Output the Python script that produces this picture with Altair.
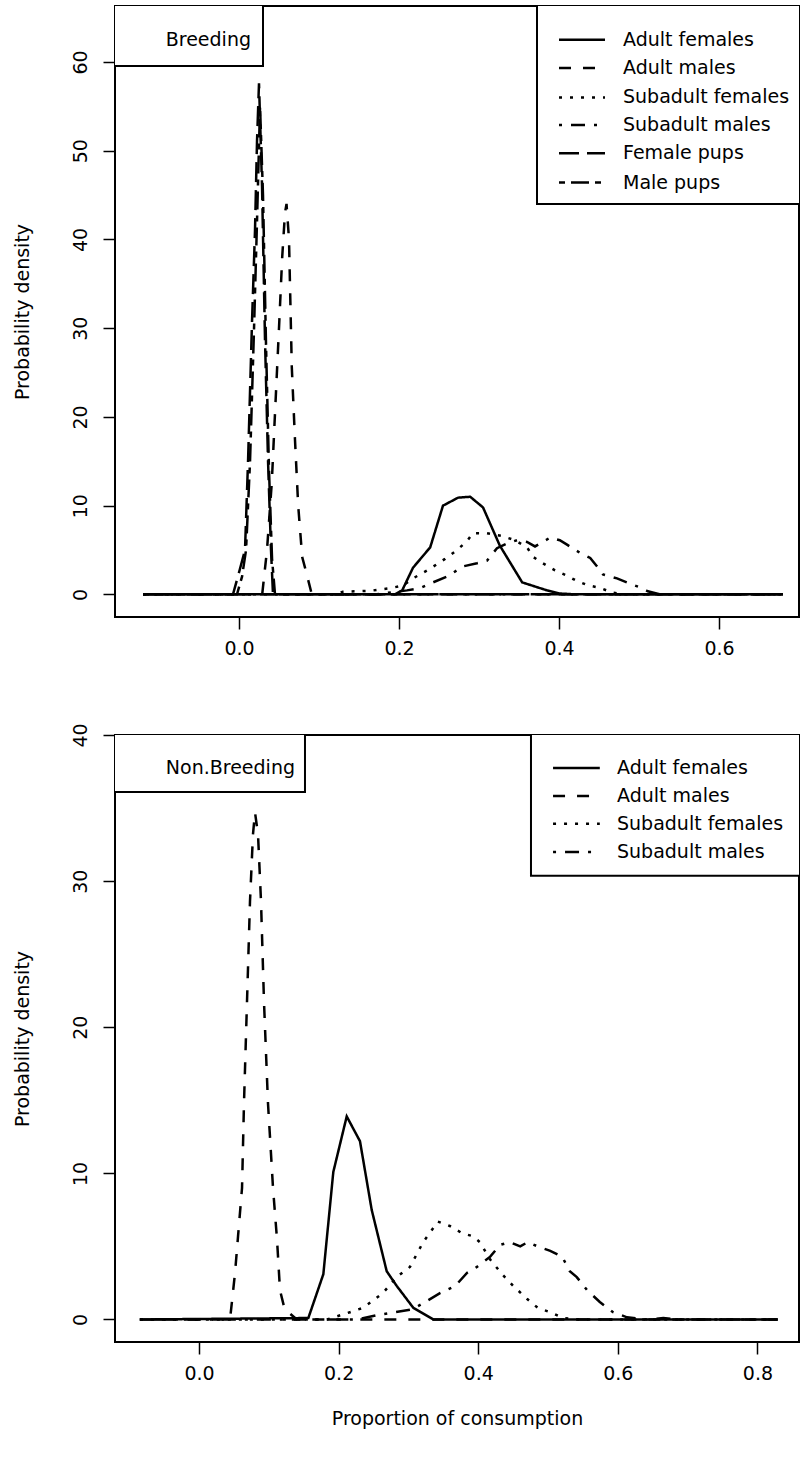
import altair as alt
import pandas as pd

FONT = "DejaVu Sans"
FS = 19
W = 684
LW = 2.5

SERIES = ["Adult females", "Adult males", "Subadult females", "Subadult males", "Female pups", "Male pups"]
DASHES = [[1, 0], [12, 12], [3, 8], [3, 9, 14, 9], [20, 8], [6, 6, 18, 6]]

# ---------------- Breeding ----------------
b_adult_f_x = [-0.12, 0.195, 0.204, 0.2175, 0.239, 0.255, 0.274, 0.289, 0.305, 0.326, 0.354, 0.385, 0.401, 0.42, 0.68]
b_adult_f_y = [0, 0, 0.45, 3.0, 5.3, 10.0, 10.9, 11.0, 9.8, 5.5, 1.35, 0.45, 0.1, 0, 0]

b_adult_m_x = [-0.12, 0.029, 0.035, 0.041, 0.045, 0.05, 0.054, 0.0575, 0.0594, 0.0625, 0.066, 0.07, 0.074, 0.079, 0.084, 0.091, 0.68]
b_adult_m_y = [0, 0, 5, 12.6, 20.4, 30, 38, 43, 44, 40, 25.6, 17.4, 10, 4.2, 2.5, 0, 0]

b_sub_f_x = [-0.12, 0.12, 0.13, 0.164, 0.189, 0.205, 0.2175, 0.239, 0.2575, 0.2725, 0.285, 0.2925, 0.31, 0.328, 0.345,
             0.36, 0.368, 0.38, 0.395, 0.41, 0.4225, 0.437, 0.451, 0.466, 0.4825, 0.68]
b_sub_f_y = [0, 0, 0.3, 0.4, 0.7, 1.0, 1.8, 2.9, 4.0, 5.0, 6.0, 6.9, 6.9, 6.6, 6.1,
             5.3, 4.2, 3.5, 2.7, 2.1, 1.5, 1.0, 0.75, 0.2, 0, 0]

b_sub_m_x = [-0.12, 0.17, 0.21, 0.226, 0.2425, 0.26, 0.28, 0.2975, 0.31, 0.3225, 0.335, 0.3475, 0.36, 0.37, 0.389,
             0.401, 0.41, 0.426, 0.439, 0.449, 0.455, 0.4725, 0.489, 0.501, 0.511, 0.526, 0.68]
b_sub_m_y = [0, 0, 0.45, 0.7, 1.35, 2.0, 3.15, 3.5, 3.8, 5.2, 5.75, 6.1, 5.9, 5.4, 6.4,
             6.1, 5.6, 4.7, 4.1, 3.0, 2.25, 1.8, 1.2, 0.8, 0.35, 0, 0]

b_fpup_x = [-0.12, -0.0075, 0.001, 0.0075, 0.0113, 0.0163, 0.02, 0.0225, 0.025, 0.0288, 0.0325, 0.0363, 0.04, 0.0425, 0.68]
b_fpup_y = [0, 0, 2.8, 5, 15, 30.8, 41, 51, 57.6, 46, 28.7, 15, 5, 0, 0]

b_mpup_x = [-0.12, -0.0025, 0.0038, 0.0088, 0.0138, 0.0188, 0.0225, 0.0263, 0.03, 0.0338, 0.0375, 0.0413, 0.045, 0.68]
b_mpup_y = [0, 0, 2, 5, 15, 30, 42, 55, 45, 28, 14, 4, 0, 0]

# ---------------- Non.Breeding ----------------
nb_adult_f_x = [-0.0848, 0.1566, 0.1781, 0.1924, 0.2116, 0.2306, 0.2474, 0.2689, 0.2832, 0.307, 0.3357, 0.8292]
nb_adult_f_y = [0, 0.1, 3.1, 10.1, 13.9, 12.2, 7.5, 3.3, 2.3, 0.8, 0, 0]

nb_adult_m_x = [-0.0848, 0.0444, 0.0516, 0.0559, 0.0616, 0.0644, 0.0687, 0.073, 0.0773, 0.0802, 0.0845, 0.0888,
                0.0931, 0.0988, 0.106, 0.1117, 0.116, 0.1232, 0.1304, 0.1402, 0.8292]
nb_adult_m_y = [0, 0, 3.2, 5.7, 9, 14.8, 21.7, 28.6, 33.2, 34.7, 33.2, 28.6,
                21.7, 14.8, 9, 5.5, 2, 0.6, 0.4, 0, 0]

nb_sub_f_x = [-0.0848, 0.1832, 0.2162, 0.2352, 0.2632, 0.2832, 0.3022, 0.3212, 0.3422, 0.3592, 0.3772, 0.3922,
              0.4022, 0.4172, 0.4342, 0.4502, 0.4702, 0.4852, 0.5032, 0.5212, 0.5462, 0.8292]
nb_sub_f_y = [0, 0, 0.5, 0.8, 1.8, 2.9, 3.6, 5.3, 6.7, 6.4, 5.9, 5.7,
              5.3, 4.1, 3.1, 2.3, 1.4, 0.8, 0.5, 0.1, 0, 0]

nb_sub_m_x = [-0.0848, 0.2272, 0.2552, 0.3062, 0.3242, 0.3452, 0.3672, 0.3842, 0.3982, 0.4172, 0.4312, 0.4452,
              0.4602, 0.4712, 0.4852, 0.5032, 0.5202, 0.5312, 0.5412, 0.5562, 0.5742, 0.5932, 0.6132, 0.6422,
              0.6652, 0.6852, 0.8292]
nb_sub_m_y = [0, 0, 0.3, 0.7, 1.2, 1.8, 2.3, 3.2, 3.6, 4.3, 5.1, 5.3,
              5.0, 5.3, 5.0, 4.7, 4.3, 3.3, 2.9, 2.0, 1.2, 0.5, 0.15, 0,
              0.1, 0, 0]

top_ticks_x = [0.0, 0.2, 0.4, 0.6]
top_ticks_y = [0, 10, 20, 30, 40, 50, 60]
bot_ticks_x = [0.0, 0.2, 0.4, 0.6, 0.8]
bot_ticks_y = [0, 10, 20, 30, 40]

dash_scale = alt.Scale(domain=SERIES, range=DASHES)


def curves_df(items):
    rows = []
    for name, xs, ys in items:
        for i, (a, b) in enumerate(zip(xs, ys)):
            rows.append({"series": name, "x": a, "y": b, "i": i})
    return pd.DataFrame(rows)


def make_panel(df, xdom, ydom, xvals, yvals, height, tag, legend_names, geo, xtitle):
    xs = alt.Scale(domain=xdom, nice=False, zero=False)
    ys = alt.Scale(domain=ydom, nice=False, zero=False)
    xkw = dict(values=xvals, format=".1f", labelAngle=0, labelPadding=10, labelBaseline="top",
               labelFlush=False, labelOverlap=False, title=xtitle)
    if xtitle:
        xkw.update(titleY=76, titleBaseline="middle")
    xaxis = alt.Axis(**xkw)
    yaxis = alt.Axis(values=yvals, format="d", labelAngle=270, labelAlign="center", labelBaseline="alphabetic",
                     labelPadding=17, labelFlush=False, labelOverlap=False, title="Probability density",
                     titleAngle=270, titleX=-93, titleY=height / 2, titleAlign="center", titleBaseline="middle")

    def X(f="x"):
        return alt.X(f + ":Q", scale=xs, axis=xaxis, title=xtitle)

    def Y(f="y"):
        return alt.Y(f + ":Q", scale=ys, axis=yaxis, title="Probability density")

    lines = alt.Chart(df).mark_line(color="black", strokeWidth=LW, clip=True, strokeCap="butt").encode(
        x=X(), y=Y(),
        strokeDash=alt.StrokeDash("series:N", scale=dash_scale, legend=None),
        order="i:Q",
    )

    # panel tag box and legend box
    boxes = pd.DataFrame([
        {"x": xdom[0] - 0.05, "x2": geo["tag_x2"], "y": geo["tag_y1"], "y2": ydom[1] + 2},
        {"x": geo["leg_x1"], "x2": xdom[1] + 0.05, "y": geo["leg_y1"], "y2": ydom[1] + 2},
    ])
    rects = alt.Chart(boxes).mark_rect(fill="white", stroke="black", strokeWidth=2, clip=True).encode(
        x=X(), x2="x2:Q", y=Y(), y2="y2:Q")

    tag_df = pd.DataFrame([{"x": geo["tag_tx"], "y": geo["tag_ty"], "label": tag}])
    tag_text = alt.Chart(tag_df).mark_text(align="right", baseline="middle", font=FONT, fontSize=FS,
                                           color="black", clip=True).encode(x=X(), y=Y(), text="label:N")

    leg_rows = []
    for name, yy in zip(legend_names, geo["rows"]):
        leg_rows.append({"series": name, "x": geo["lx1"], "x2": geo["lx2"], "y": yy, "tx": geo["tx"]})
    leg_df = pd.DataFrame(leg_rows)
    leg_lines = alt.Chart(leg_df).mark_rule(color="black", strokeWidth=LW, strokeCap="butt", clip=True).encode(
        x=X(), x2="x2:Q", y=Y(),
        strokeDash=alt.StrokeDash("series:N", scale=dash_scale, legend=None))
    leg_text = alt.Chart(leg_df).mark_text(align="left", baseline="middle", font=FONT, fontSize=FS,
                                           color="black", clip=True).encode(
        x=X("tx"), y=Y(), text="series:N")

    return alt.layer(lines, rects, tag_text, leg_lines, leg_text).properties(width=W, height=height)


top_df = curves_df([
    ("Adult females", b_adult_f_x, b_adult_f_y),
    ("Adult males", b_adult_m_x, b_adult_m_y),
    ("Subadult females", b_sub_f_x, b_sub_f_y),
    ("Subadult males", b_sub_m_x, b_sub_m_y),
    ("Female pups", b_fpup_x, b_fpup_y),
    ("Male pups", b_mpup_x, b_mpup_y),
])
bot_df = curves_df([
    ("Adult females", nb_adult_f_x, nb_adult_f_y),
    ("Adult males", nb_adult_m_x, nb_adult_m_y),
    ("Subadult females", nb_sub_f_x, nb_sub_f_y),
    ("Subadult males", nb_sub_m_x, nb_sub_m_y),
])

top_geo = dict(tag_x2=0.03, tag_y1=59.55, tag_tx=0.015, tag_ty=62.45,
               leg_x1=0.3725, leg_y1=44.0,
               rows=[62.5, 59.3, 56.0, 52.9, 49.7, 46.4], lx1=0.40, lx2=0.4575, tx=0.48)
bot_geo = dict(tag_x2=0.1518, tag_y1=36.1, tag_tx=0.1375, tag_ty=37.75,
               leg_x1=0.4756, leg_y1=30.36,
               rows=[37.75, 35.83, 33.92, 32.0], lx1=0.5072, lx2=0.5742, tx=0.5988)

top = make_panel(top_df, [-0.155, 0.70], [-2.55, 66.3], top_ticks_x, top_ticks_y, 611,
                 "Breeding", SERIES, top_geo, "")
bottom = make_panel(bot_df, [-0.1204, 0.8596], [-1.54, 40.0], bot_ticks_x, bot_ticks_y, 607,
                    "Non.Breeding", SERIES[:4], bot_geo, "Proportion of consumption")

chart = alt.vconcat(top, bottom, spacing=118, bounds="flush").properties(
    padding={"left": 12, "top": 5, "right": 0, "bottom": 20},
    background="white",
).configure_view(stroke="black", strokeWidth=2).configure_axis(
    labelFont=FONT, labelFontSize=FS, labelColor="black",
    titleFont=FONT, titleFontSize=FS, titleColor="black", titleFontWeight="normal",
    tickColor="black", tickWidth=1.5, tickSize=12, domain=False, grid=False,
)

chart.save("out.html", embed_options={"renderer": "svg", "actions": False})
